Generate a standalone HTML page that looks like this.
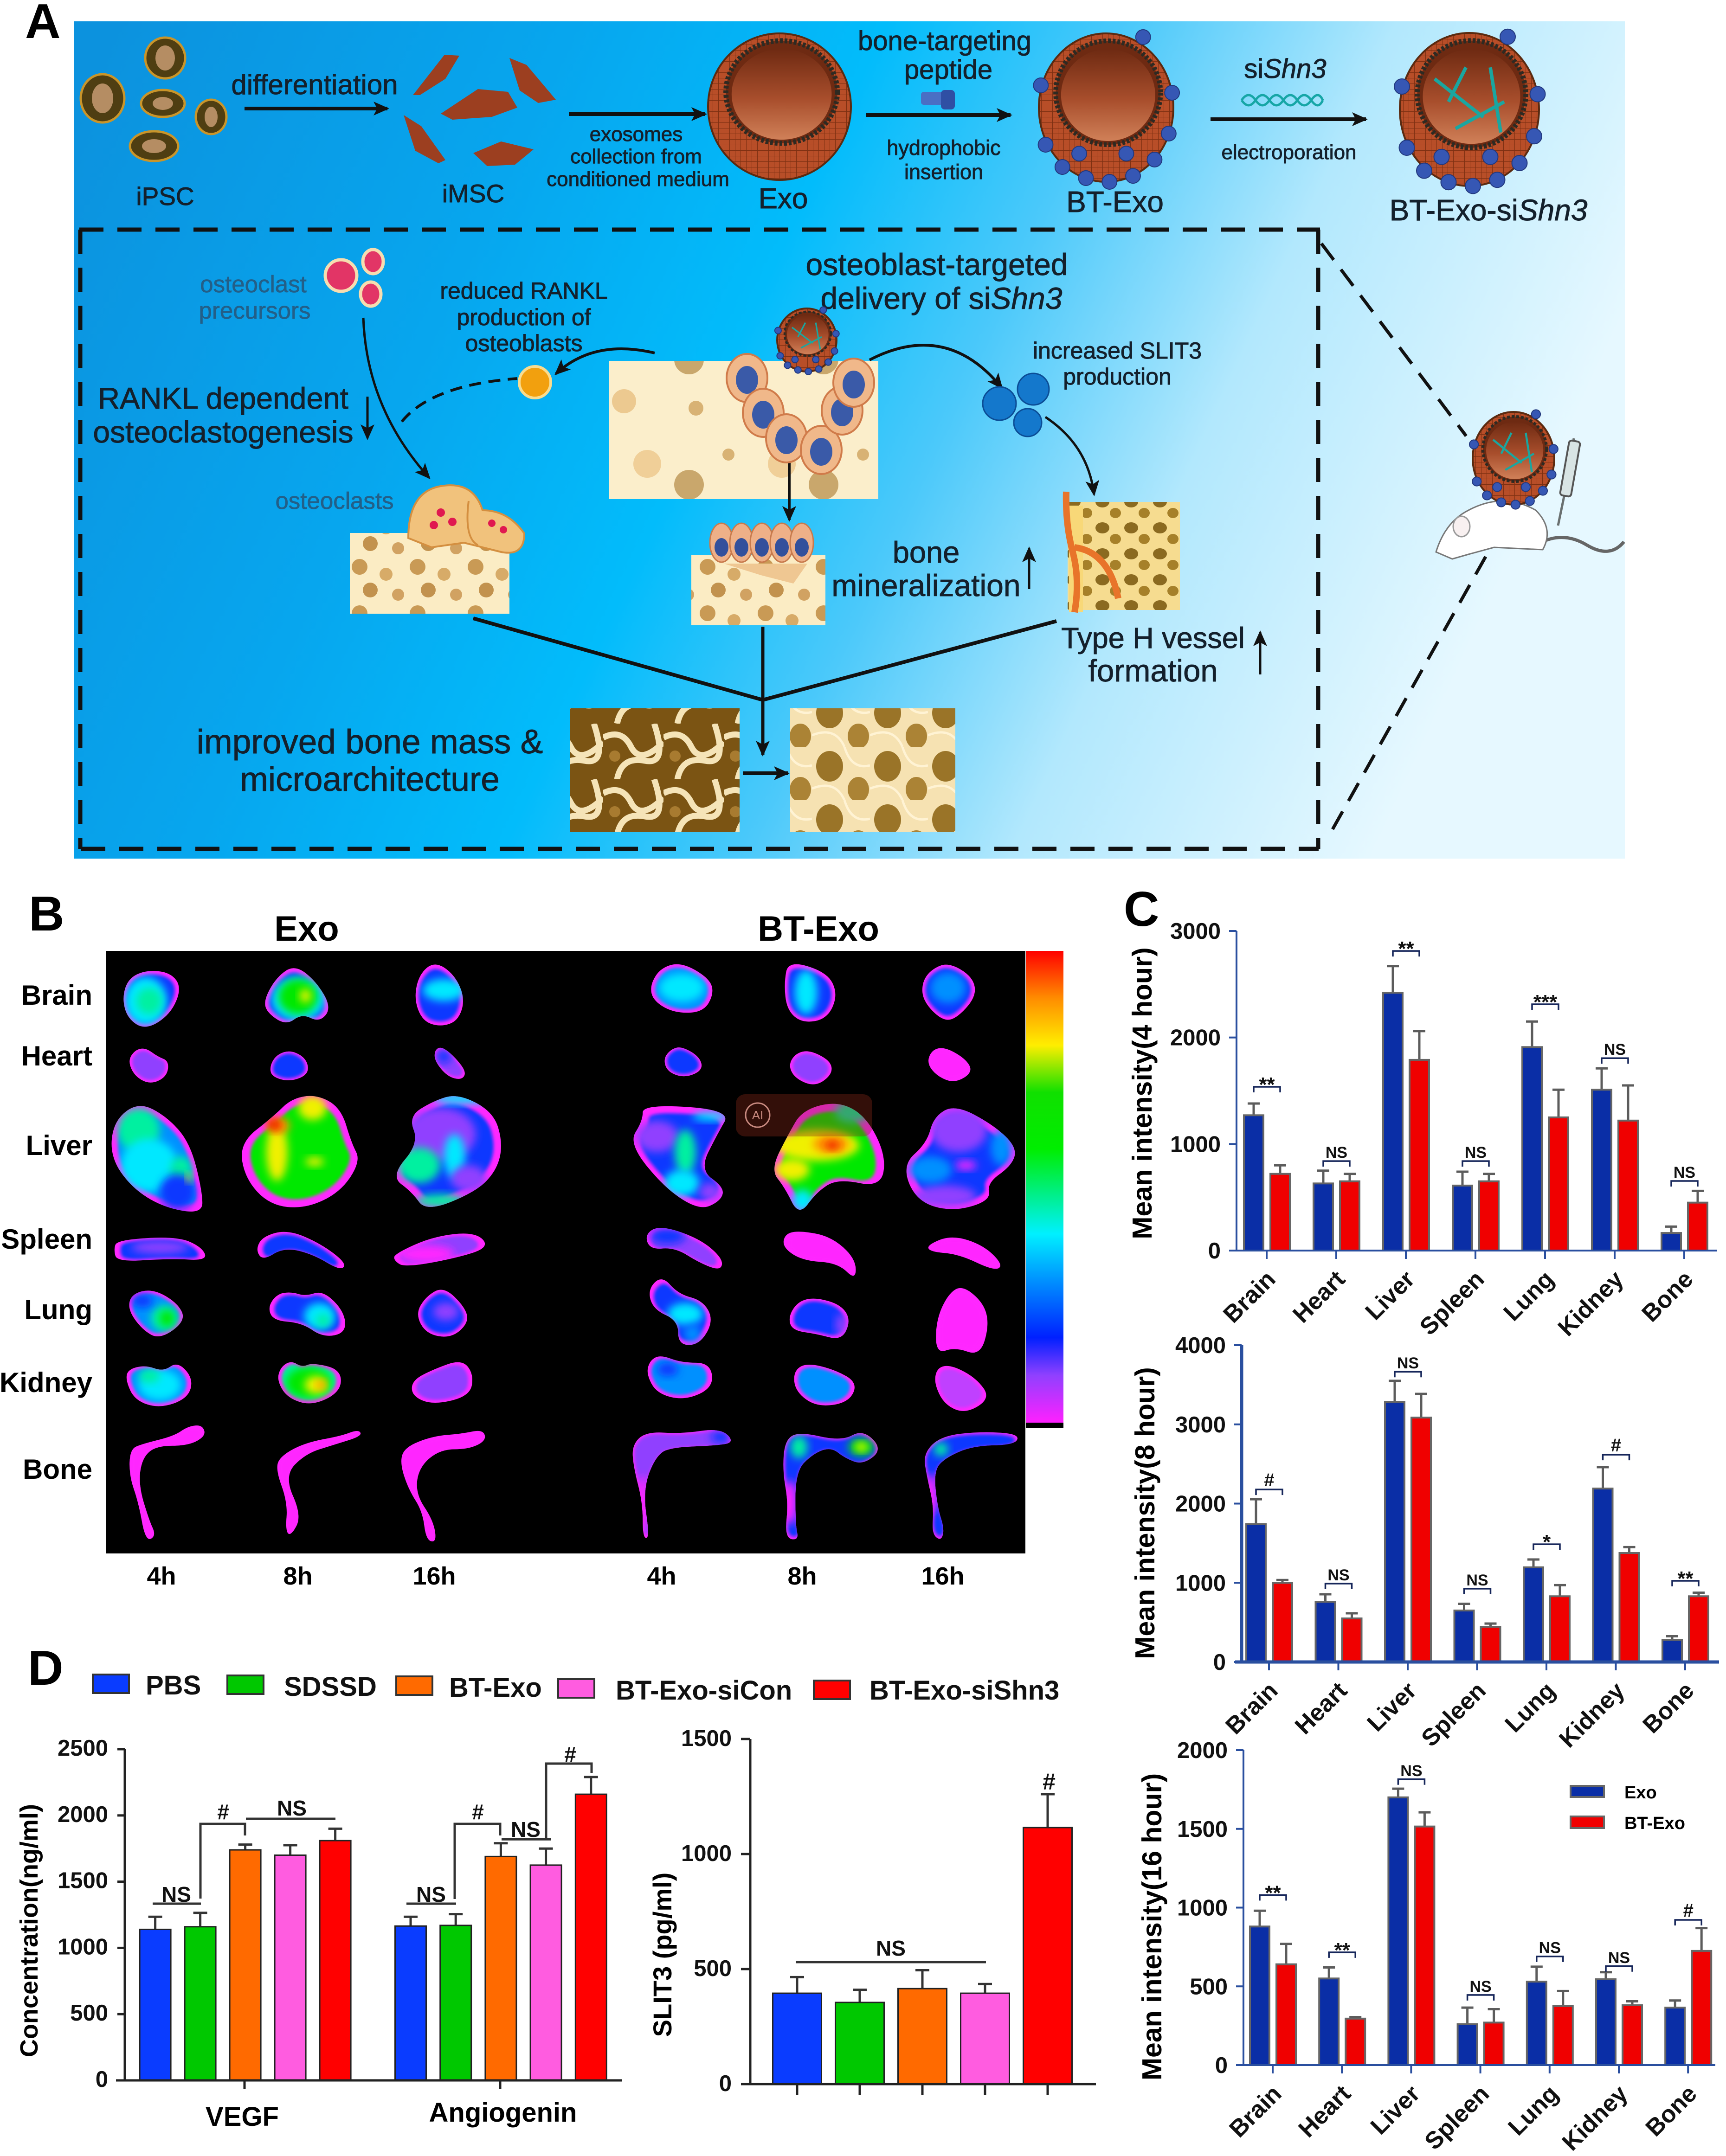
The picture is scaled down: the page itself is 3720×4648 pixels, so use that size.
<!DOCTYPE html>
<html lang="en"><head><meta charset="utf-8"><title>Multi-panel exosome figure</title>
<style>
html,body{margin:0;padding:0;background:#fff}
svg{display:block;font-family:"Liberation Sans",sans-serif}
.a{fill:#14202c;text-anchor:middle;stroke:#14202c;stroke-width:.9}
.t{fill:#235f88;text-anchor:middle;stroke:#235f88;stroke-width:.7}
.b{font-weight:700;fill:#000;text-anchor:middle}
.pl{font-weight:700;fill:#000;font-size:106px}
</style></head><body>
<svg id="figure" xmlns="http://www.w3.org/2000/svg" width="3720" height="4648" viewBox="0 0 3720 4648">
<defs>
<linearGradient id="bgGrad" x1="0" y1="0.1" x2="1" y2="0.35">
<stop offset="0" stop-color="#0c92de"/><stop offset=".28" stop-color="#07a6ee"/><stop offset=".47" stop-color="#02bcfb"/><stop offset=".62" stop-color="#4cc9fa"/><stop offset=".78" stop-color="#b2e8fd"/><stop offset="1" stop-color="#e6f8ff"/>
</linearGradient>
<linearGradient id="scaleGrad" x1="0" y1="0" x2="0" y2="1">
<stop offset="0" stop-color="#ff0000"/><stop offset=".1" stop-color="#ff8c00"/><stop offset=".2" stop-color="#ffee00"/><stop offset=".3" stop-color="#10e000"/><stop offset=".42" stop-color="#00ee00"/><stop offset=".6" stop-color="#00f0ff"/><stop offset=".7" stop-color="#0090ff"/><stop offset=".82" stop-color="#0020ff"/><stop offset=".9" stop-color="#9040ff"/><stop offset="1" stop-color="#ff20ff"/>
</linearGradient>
<linearGradient id="cupGrad" x1="0" y1="0" x2="0" y2="1"><stop offset="0" stop-color="#6e2a12"/><stop offset=".55" stop-color="#a84e2c"/><stop offset="1" stop-color="#d08058"/></linearGradient>
<marker id="arrow" markerUnits="userSpaceOnUse" markerWidth="34" markerHeight="30" refX="30" refY="15" orient="auto"><path d="M0 0L34 15L0 30L8 15Z" fill="#111"/></marker>
<pattern id="boneDense" width="125" height="100" patternUnits="userSpaceOnUse">
<rect width="125" height="100" fill="#fbecc4"/><circle cx="25" cy="22" r="17" fill="#c99a55"/><circle cx="82" cy="38" r="14" fill="#d7ab68"/><circle cx="48" cy="72" r="16" fill="#c2924e"/><circle cx="108" cy="82" r="13" fill="#d1a262"/>
</pattern>
<pattern id="boneSparse" width="290" height="270" patternUnits="userSpaceOnUse">
<rect width="290" height="270" fill="#fbeecb"/><circle cx="50" cy="70" r="16" fill="#d8b274"/><circle cx="185" cy="55" r="26" fill="#ecc990"/><circle cx="120" cy="170" r="13" fill="#d8b274"/><circle cx="235" cy="190" r="30" fill="#f0cf98"/><circle cx="35" cy="235" r="32" fill="#c9a76c"/>
</pattern>
<pattern id="boneDark" width="130" height="120" patternUnits="userSpaceOnUse">
<rect width="130" height="120" fill="#7b5413"/><path d="M0 30Q40 10 60 50T130 40M30 120Q40 70 90 80T110 0" fill="none" stroke="#f5e4b8" stroke-width="13"/><circle cx="25" cy="70" r="12" fill="#a87b30"/>
</pattern>
<pattern id="boneHoles" width="125" height="115" patternUnits="userSpaceOnUse">
<rect width="125" height="115" fill="#f6e2b2"/><ellipse cx="38" cy="42" rx="29" ry="33" fill="#9a7428"/><ellipse cx="100" cy="92" rx="23" ry="27" fill="#ab8335"/><path d="M0 90Q50 70 70 115M70 0Q85 50 125 40" stroke="#fff3d4" stroke-width="5" fill="none"/>
</pattern>
<pattern id="boneSpongy" width="62" height="56" patternUnits="userSpaceOnUse">
<rect width="62" height="56" fill="#f6dc90"/><ellipse cx="20" cy="18" rx="15" ry="12" fill="#8b6a20"/><ellipse cx="48" cy="42" rx="12" ry="11" fill="#a68029"/>
</pattern>
<pattern id="lipid" width="12" height="12" patternUnits="userSpaceOnUse"><rect width="12" height="12" fill="#b84e28"/><path d="M0 0H12M0 0V12" stroke="#7e3012" stroke-width="2"/></pattern>
<filter id="blur8" x="-40%" y="-40%" width="180%" height="180%"><feGaussianBlur stdDeviation="9"/></filter>
<filter id="blur4" x="-30%" y="-30%" width="160%" height="160%"><feGaussianBlur stdDeviation="4"/></filter>
</defs>
<rect width="3720" height="4648" fill="#fff"/>

<!-- PANEL A -->
<g id="panelA">
<rect x="159" y="46" width="3343" height="1805" fill="url(#bgGrad)"/>
<text class="pl" x="54" y="82">A</text>
<g fill="none" stroke="#111" stroke-width="9" stroke-dasharray="52 30">
<path d="M171 495H2845"/><path d="M175 1830H2842"/><path d="M173 495V1830" /><path d="M2841 495V1830"/>
</g>
<g fill="none" stroke="#111" stroke-width="7" stroke-dasharray="44 26">
<path d="M2848 525L3160 940"/><path d="M3202 1200L2868 1795"/>
</g>
<g stroke="#111" stroke-width="8" fill="none">
<path d="M527 234H835" marker-end="url(#arrow)"/><path d="M1226 246H1520" marker-end="url(#arrow)"/><path d="M1867 248H2178" marker-end="url(#arrow)"/><path d="M2609 257H2944" marker-end="url(#arrow)"/>
</g>
<g stroke="#c9952a" stroke-width="5">
<ellipse cx="356" cy="125" rx="43" ry="44" fill="#4f3e12"/><ellipse cx="356" cy="125" rx="21" ry="27" fill="#b58d63" stroke="none"/>
<ellipse cx="221" cy="212" rx="47" ry="52" fill="#4f3e12"/><ellipse cx="221" cy="212" rx="23" ry="32" fill="#b58d63" stroke="none"/>
<ellipse cx="351" cy="223" rx="47" ry="29" fill="#4f3e12"/><ellipse cx="351" cy="223" rx="22" ry="14" fill="#b58d63" stroke="none"/>
<ellipse cx="455" cy="252" rx="33" ry="37" fill="#4f3e12"/><ellipse cx="455" cy="252" rx="14" ry="22" fill="#b58d63" stroke="none"/>
<ellipse cx="332" cy="315" rx="52" ry="32" fill="#4f3e12"/><ellipse cx="332" cy="315" rx="26" ry="15" fill="#b58d63" stroke="none"/>
</g>
<g fill="#9c3f20">
<path d="M990 120L958 118L890 205L905 205L960 170Z"/><path d="M1098 125L1135 140L1198 215L1160 222L1120 195Z"/><path d="M950 245L1030 192L1095 198L1115 232L1060 252L975 258Z"/><path d="M870 248L908 272L960 345L945 352L895 325Z"/><path d="M1020 330L1080 305L1150 322L1110 355L1050 358Z"/>
</g>
<g><rect x="1985" y="198" width="62" height="28" rx="6" fill="#4a6fc4"/><rect x="2028" y="194" width="30" height="42" rx="8" fill="#2f4fa4"/></g>
<path d="M2676 216q15 -22 30 0t30 0t30 0t30 0t30 0t25 0M2676 216q15 22 30 0t30 0t30 0t30 0t30 0t25 0" stroke="#16a6a6" stroke-width="5" fill="none"/>
<text class="a" x="678" y="203" font-size="60">differentiation</text>
<text class="a" x="356" y="442" font-size="55">iPSC</text>
<text class="a" x="1020" y="436" font-size="55">iMSC</text>
<text class="a" x="1371" y="304" font-size="44">exosomes</text>
<text class="a" x="1371" y="352" font-size="44">collection from</text>
<text class="a" x="1375" y="401" font-size="44">conditioned medium</text>
<text class="a" x="1688" y="449" font-size="62">Exo</text>
<text class="a" x="2036" y="108" font-size="58">bone-targeting</text>
<text class="a" x="2044" y="170" font-size="58">peptide</text>
<text class="a" x="2034" y="334" font-size="45">hydrophobic</text>
<text class="a" x="2034" y="386" font-size="45">insertion</text>
<text class="a" x="2403" y="457" font-size="64">BT-Exo</text>
<text class="a" x="2770" y="168" font-size="58">si<tspan font-style="italic">Shn3</tspan></text>
<text class="a" x="2778" y="343" font-size="44">electroporation</text>
<text class="a" x="3208" y="475" font-size="64">BT-Exo-si<tspan font-style="italic">Shn3</tspan></text>
<rect x="1312" y="778" width="581" height="298" fill="url(#boneSparse)"/>
<rect x="754" y="1149" width="344" height="174" fill="url(#boneDense)"/>
<rect x="1490" y="1197" width="289" height="151" fill="url(#boneDense)"/>
<path d="M1560 1215H1740L1710 1258L1640 1240Z" fill="#efc792"/>
<rect x="2301" y="1082" width="242" height="233" fill="url(#boneSpongy)"/>
<rect x="2304" y="1090" width="30" height="230" fill="#f8d878"/>
<path d="M2298 1060Q2296 1130 2312 1190T2316 1320M2316 1180Q2390 1190 2410 1290" stroke="#e8742a" stroke-width="14" fill="none"/>
<rect x="1229" y="1527" width="365" height="267" fill="url(#boneDark)"/>
<rect x="1703" y="1527" width="356" height="267" fill="url(#boneHoles)"/>
<g fill="none" stroke="#111">
<path d="M783 685Q790 880 925 1030" stroke-width="5" marker-end="url(#arrow)"/>
<path d="M866 909Q930 830 1115 816" stroke-width="6" stroke-dasharray="26 16"/>
<path d="M1411 761Q1280 730 1198 806" stroke-width="6" marker-end="url(#arrow)"/>
<path d="M1874 776Q2040 690 2159 836" stroke-width="6" marker-end="url(#arrow)"/>
<path d="M2253 899Q2345 960 2358 1066" stroke-width="5" marker-end="url(#arrow)"/>
<path d="M1701 970V1121" stroke-width="6" marker-end="url(#arrow)"/>
<path d="M792 855V945" stroke-width="5" marker-end="url(#arrow)"/>
<path d="M2218 1270V1182" stroke-width="5" marker-end="url(#arrow)"/>
<path d="M2716 1454V1363" stroke-width="5" marker-end="url(#arrow)"/>
<path d="M1020 1333L1644 1509L2277 1339" stroke-width="8"/>
<path d="M1644 1351V1627" stroke-width="7" marker-end="url(#arrow)"/>
<path d="M1601 1667H1698" stroke-width="8" marker-end="url(#arrow)"/>
</g>
<g stroke="#f6ddb0" stroke-width="7" fill="#e23566"><circle cx="735" cy="594" r="34"/><ellipse cx="804" cy="564" rx="22" ry="26"/><ellipse cx="799" cy="634" rx="22" ry="26"/></g>
<circle cx="1153" cy="824" r="34" fill="#f2a00e" stroke="#f8dc90" stroke-width="6"/>
<g fill="#1478cc" stroke="#0b4d96" stroke-width="3"><circle cx="2154" cy="870" r="36"/><circle cx="2227" cy="839" r="34"/><circle cx="2215" cy="911" r="30"/></g>
<g><path d="M880 1160Q880 1060 950 1048T1040 1100Q1095 1100 1130 1150Q1130 1200 1080 1190L1000 1170L930 1180Z" fill="#f1c27c" stroke="#d48f40" stroke-width="4"/><path d="M1010 1080Q1000 1160 1030 1175" stroke="#d48f40" stroke-width="4" fill="none"/><circle cx="950" cy="1105" r="9" fill="#e01850"/><circle cx="975" cy="1125" r="9" fill="#e01850"/><circle cx="935" cy="1132" r="9" fill="#e01850"/><circle cx="1060" cy="1128" r="8" fill="#e01850"/><circle cx="1085" cy="1142" r="8" fill="#e01850"/></g>
<text class="t" x="546" y="630" font-size="51">osteoclast</text>
<text class="t" x="549" y="687" font-size="51">precursors</text>
<text class="a" x="1129" y="644" font-size="50">reduced RANKL</text>
<text class="a" x="1129" y="701" font-size="50">production of</text>
<text class="a" x="1129" y="757" font-size="50">osteoblasts</text>
<text class="a" x="2019" y="593" font-size="66">osteoblast-targeted</text>
<text class="a" x="2029" y="666" font-size="66">delivery of si<tspan font-style="italic">Shn3</tspan></text>
<text class="a" x="481" y="881" font-size="65">RANKL dependent</text>
<text class="a" x="481" y="954" font-size="66">osteoclastogenesis</text>
<text class="a" x="2408" y="773" font-size="50">increased SLIT3</text>
<text class="a" x="2408" y="829" font-size="50">production</text>
<text class="t" x="721" y="1097" font-size="51">osteoclasts</text>
<text class="a" x="1996" y="1213" font-size="65">bone</text>
<text class="a" x="1996" y="1285" font-size="66">mineralization</text>
<text class="a" x="2485" y="1397" font-size="63">Type H vessel</text>
<text class="a" x="2485" y="1469" font-size="67">formation</text>
<text class="a" x="797" y="1624" font-size="73">improved bone mass &amp;</text>
<text class="a" x="797" y="1705" font-size="73">microarchitecture</text>
<g>
<path d="M3320 1170Q3370 1145 3420 1175T3500 1168" stroke="#666" stroke-width="7" fill="none"/>
<path d="M3095 1190Q3115 1125 3165 1100Q3240 1060 3310 1100Q3350 1140 3325 1185L3220 1180L3165 1195L3130 1205Z" fill="#fff" stroke="#777" stroke-width="3"/>
<ellipse cx="3150" cy="1135" rx="18" ry="22" fill="#f8f0f0" stroke="#999" stroke-width="3"/>
</g>
<g><path d="M3392 945L3370 1075L3358 1133" stroke="#6a7070" stroke-width="5" fill="none"/><rect x="3372" y="950" width="24" height="120" rx="6" transform="rotate(10 3384 1010)" fill="#d8e4e4" stroke="#555" stroke-width="4"/></g>
</g>

<!-- PANEL B static frame -->
<g id="panelB">
<text class="pl" x="62" y="2006">B</text>
<rect x="228" y="2050" width="1982" height="1299" fill="#000"/>
<rect x="2211" y="2050" width="81" height="1028" fill="#000"/>
<rect x="2211" y="2050" width="81" height="1017" fill="url(#scaleGrad)"/>
<text class="b" x="661" y="2028" font-size="76">Exo</text>
<text class="b" x="1764" y="2028" font-size="76">BT-Exo</text>
</g>

<!-- PANEL C / D static labels -->
<g>
<text class="pl" x="2422" y="1996">C</text>
<text class="b" transform="translate(2482,2357) rotate(-90)" font-size="59">Mean intensity(4 hour)</text>
<text class="b" transform="translate(2488,3262) rotate(-90)" font-size="59">Mean intensity(8 hour)</text>
<text class="b" transform="translate(2503,4154) rotate(-90)" font-size="59">Mean intensity(16 hour)</text>
<rect x="3385" y="3850" width="72" height="24" fill="#0a2ea6" stroke="#666" stroke-width="4"/>
<rect x="3385" y="3916" width="72" height="25" fill="#f00000" stroke="#666" stroke-width="4"/>
<text x="3501" y="3877" font-size="38" font-weight="700">Exo</text>
<text x="3501" y="3943" font-size="38" font-weight="700">BT-Exo</text>
</g>
<g>
<text class="pl" x="60" y="3632">D</text>
<text class="b" transform="translate(81,4162) rotate(-90)" font-size="54">Concentration(ng/ml)</text>
<text class="b" transform="translate(1447,4214) rotate(-90)" font-size="56">SLIT3 (pg/ml)</text>
<text class="b" x="522" y="4583" font-size="58">VEGF</text>
<text class="b" x="1084" y="4574" font-size="58">Angiogenin</text>
</g>
</svg>
<script>
// ---- Panel C data ----
const organCategories = ['Brain', 'Heart', 'Liver', 'Spleen', 'Lung', 'Kidney', 'Bone'];
const exo4h = [1270, 630, 2420, 610, 1910, 1510, 165];
const exo4hErrTop = [1380, 750, 2670, 740, 2150, 1710, 225];
const bt4h = [720, 650, 1790, 650, 1250, 1220, 450];
const bt4hErrTop = [800, 720, 2060, 720, 1510, 1550, 560];
const sigLabels4h = ['**', 'NS', '**', 'NS', '***', 'NS', 'NS'];
const sigLevels4h = [1537, 840, 2812, 840, 2312, 1806, 653];
const ticks4h = [0, 1000, 2000, 3000];

const exo8h = [1740, 760, 3285, 650, 1195, 2190, 280];
const exo8hErrTop = [2055, 855, 3550, 735, 1294, 2460, 325];
const bt8h = [1000, 550, 3086, 445, 830, 1376, 830];
const bt8hErrTop = [1035, 615, 3385, 485, 970, 1450, 875];
const sigLabels8h = ['#', 'NS', 'NS', 'NS', '*', '#', '**'];
const sigLevels8h = [2178, 990, 3665, 925, 1487, 2617, 1025];
const ticks8h = [0, 1000, 2000, 3000, 4000];

const exo16h = [880, 550, 1700, 260, 530, 545, 365];
const exo16hErrTop = [980, 620, 1755, 365, 625, 590, 410];
const bt16h = [640, 295, 1515, 270, 375, 380, 725];
const bt16hErrTop = [770, 305, 1605, 355, 470, 405, 870];
const sigLabels16h = ['**', '**', 'NS', 'NS', 'NS', 'NS', '#'];
const sigLevels16h = [1080, 716, 1815, 445, 690, 628, 922];
const ticks16h = [0, 500, 1000, 1500, 2000];

// ---- Panel D data ----
const groupNames = ['PBS', 'SDSSD', 'BT-Exo', 'BT-Exo-siCon', 'BT-Exo-siShn3'];
const groupColors = ['#0a3cff', '#00c800', '#ff6a00', '#ff5ce0', '#ff0000'];
const vegfValues = [1140, 1160, 1740, 1700, 1810];
const vegfErrTop = [1235, 1265, 1780, 1775, 1900];
const angiogeninValues = [1165, 1170, 1690, 1625, 2160];
const angiogeninErrTop = [1235, 1255, 1790, 1750, 2290];
const concTicks = [0, 500, 1000, 1500, 2000, 2500];
const slit3Values = [395, 355, 415, 395, 1115];
const slit3ErrTop = [465, 410, 495, 435, 1260];
const slit3Ticks = [0, 500, 1000, 1500];

// ---- Panel B labels ----
const tissueRows = ['Brain', 'Heart', 'Liver', 'Spleen', 'Lung', 'Kidney', 'Bone'];
const timeLabels = ['4h', '8h', '16h', '4h', '8h', '16h'];

const NS = 'http://www.w3.org/2000/svg';
const svg = document.getElementById('figure');
function mk(tag, attrs, parent, txt) {
  const e = document.createElementNS(NS, tag);
  for (const k in attrs) e.setAttribute(k, attrs[k]);
  if (txt !== undefined) e.textContent = txt;
  (parent || svg).appendChild(e);
  return e;
}

// ---- Chart C ----
function drawOrganChart(key, geo, exo, exoTop, bt, btTop, sigL, sigV, ticks) {
  const g = mk('g', {});
  
  
  const vMax = ticks[ticks.length - 1];
  const y = v => geo.y0 - v / vMax * (geo.y0 - geo.yTop);
  const x = i => geo.x0 + i * geo.step;
  const W = 42;
  organCategories.forEach((cat, i) => {
    [[exo, exoTop, '#0a2ea6', -28, 'exo'], [bt, btTop, '#f00000', 29, 'bt-exo']].forEach(s => {
      const cx = x(i) + s[3];
      const err = mk('path', { d: 'M' + cx + ' ' + y(s[0][i]) + 'V' + y(s[1][i]) + 'M' + (cx - 13) + ' ' + y(s[1][i]) + 'H' + (cx + 13), stroke: '#5c5c5c', 'stroke-width': 5, fill: 'none' }, g);
      
      
      const bar = mk('rect', { x: cx - W / 2, y: y(s[0][i]), width: W, height: geo.y0 - y(s[0][i]), fill: s[2], stroke: '#666', 'stroke-width': 4 }, g);
      
      
    });
    const bx1 = x(i) - 28, bx2 = x(i) + 29, by = y(sigV[i]);
    const br = mk('path', { d: 'M' + bx1 + ' ' + (by + 12) + 'V' + by + 'H' + bx2 + 'V' + (by + 12), stroke: '#16265a', 'stroke-width': 3.5, fill: 'none' }, g);
    
    
    const isStar = sigL[i].indexOf('*') >= 0;
    const isHash = sigL[i] === '#';
    const st = mk('text', { x: (bx1 + bx2) / 2, y: by + (isStar ? 10 : -7), 'font-size': isStar ? 44 : (isHash ? 40 : 34), 'font-weight': 700, 'text-anchor': 'middle', fill: '#111' }, g, sigL[i]);
    
    
    const tk = mk('line', { x1: x(i), x2: x(i), y1: geo.y0, y2: geo.y0 + 18, stroke: '#2a4f9f', 'stroke-width': 4 }, g);
    
    
    const lx = x(i) + 22, ly = geo.y0 + 65;
    const lab = mk('text', { x: lx, y: ly, transform: 'rotate(-45 ' + lx + ' ' + ly + ')', 'text-anchor': 'end', 'font-size': 52, 'font-weight': 700, fill: '#111' }, g, cat);
    
    
  });
  const ax = mk('path', { d: 'M' + geo.axisX + ' ' + geo.yTop + 'V' + geo.y0 + 'M' + (geo.axisX - 14) + ' ' + geo.y0 + 'H' + geo.xEnd, stroke: '#2a4f9f', 'stroke-width': geo.axisW, fill: 'none' }, g);
  
  
  ticks.forEach(t => {
    const tl = mk('line', { x1: geo.axisX - 16, x2: geo.axisX, y1: y(t), y2: y(t), stroke: '#2a4f9f', 'stroke-width': 4 }, g);
    
    
    const tt = mk('text', { x: geo.axisX - 34, y: y(t) + 17, 'text-anchor': 'end', 'font-size': 49, 'font-weight': 700, fill: '#111' }, g, String(t));
    
    
  });
}
drawOrganChart('4h', { x0: 2730, step: 150, y0: 2696, yTop: 2007, axisX: 2665, xEnd: 3701, axisW: 4 }, exo4h, exo4hErrTop, bt4h, bt4hErrTop, sigLabels4h, sigLevels4h, ticks4h);
drawOrganChart('8h', { x0: 2735, step: 149.5, y0: 3583, yTop: 2900, axisX: 2676, xEnd: 3705, axisW: 7 }, exo8h, exo8hErrTop, bt8h, bt8hErrTop, sigLabels8h, sigLevels8h, ticks8h);
drawOrganChart('16h', { x0: 2743, step: 149.2, y0: 4452, yTop: 3773, axisX: 2680, xEnd: 3697, axisW: 4 }, exo16h, exo16hErrTop, bt16h, bt16hErrTop, sigLabels16h, sigLevels16h, ticks16h);

// ---- Chart D ----
function bars(g, vals, tops, xOf, y, y0, W, prefix) {
  vals.forEach((v, i) => {
    const cx = xOf(i);
    const err = mk('path', { d: 'M' + cx + ' ' + y(v) + 'V' + y(tops[i]) + 'M' + (cx - 15) + ' ' + y(tops[i]) + 'H' + (cx + 15), stroke: '#333', 'stroke-width': 5, fill: 'none' }, g);
    
    
    const bar = mk('rect', { x: cx - W / 2, y: y(v), width: W, height: y0 - y(v), fill: groupColors[i], stroke: '#222', 'stroke-width': 3 }, g);
    
    
  });
}
const concG = mk('g', {});


const concY0 = 4485, concTop = 3771;
const concY = v => concY0 - v / 2500 * (concY0 - concTop);
bars(concG, vegfValues, vegfErrTop, i => 334.6 + i * 97, concY, concY0, 67, 'vegf');
bars(concG, angiogeninValues, angiogeninErrTop, i => 885 + i * 97.2, concY, concY0, 67, 'angiogenin');
const concAxes = mk('path', { d: 'M269 ' + concTop + 'V' + concY0 + 'M250 ' + concY0 + 'H1340M527 ' + concY0 + 'V4503M1078 ' + concY0 + 'V4503', stroke: '#222', 'stroke-width': 5, fill: 'none' }, concG);


concTicks.forEach(t => {
  const tl = mk('line', { x1: 253, x2: 269, y1: concY(t), y2: concY(t), stroke: '#222', 'stroke-width': 5 }, concG);
  
  
  const tt = mk('text', { x: 233, y: concY(t) + 14, 'text-anchor': 'end', 'font-size': 49, 'font-weight': 700, fill: '#111' }, concG, String(t));
  
  
});
const sigPaths = [
  ['M329 ' + concY(1334) + 'H433', 'NS', 380, 4100],
  ['M432 4093V3932H528V3957', '#', 481, 3922],
  ['M530 ' + concY(1975) + 'H723', 'NS', 629, 3914],
  ['M876 ' + concY(1334) + 'H983', 'NS', 929, 4100],
  ['M980 4094V3932H1078V3957', '#', 1030, 3922],
  ['M1081 ' + concY(1820) + 'H1187', 'NS', 1133, 3960],
  ['M1177 3963V3802H1275V3822', '#', 1229, 3798]
];
sigPaths.forEach(s => {
  const p = mk('path', { d: s[0], stroke: '#333', 'stroke-width': 5, fill: 'none' }, concG);
  
  
  const t = mk('text', { x: s[2], y: s[3], 'text-anchor': 'middle', 'font-size': 46, 'font-weight': 700, fill: '#111' }, concG, s[1]);
  
  
});

const slitG = mk('g', {});


const slitY0 = 4493, slitTop = 3749;
const slitY = v => slitY0 - v / 1500 * (slitY0 - slitTop);
const slitX = i => 1718 + i * 135;
bars(slitG, slit3Values, slit3ErrTop, slitX, slitY, slitY0, 105, 'slit3');
const slitAxes = mk('path', { d: 'M1617 ' + slitTop + 'V' + slitY0 + 'M1597 ' + slitY0 + 'H2362', stroke: '#222', 'stroke-width': 5, fill: 'none' }, slitG);


slit3Values.forEach((v, i) => {
  const tl = mk('line', { x1: slitX(i), x2: slitX(i), y1: slitY0, y2: 4516, stroke: '#222', 'stroke-width': 5 }, slitG);
  
  
});
slit3Ticks.forEach(t => {
  const tl = mk('line', { x1: 1597, x2: 1617, y1: slitY(t), y2: slitY(t), stroke: '#222', 'stroke-width': 5 }, slitG);
  
  
  const tt = mk('text', { x: 1577, y: slitY(t) + 15, 'text-anchor': 'end', 'font-size': 49, 'font-weight': 700, fill: '#111' }, slitG, String(t));
  
  
});
const slitNsLine = mk('line', { x1: 1715, x2: 2125, y1: 4230, y2: 4230, stroke: '#333', 'stroke-width': 5 }, slitG);


const slitNs = mk('text', { x: 1920, y: 4216, 'text-anchor': 'middle', 'font-size': 46, 'font-weight': 700, fill: '#111' }, slitG, 'NS');


const slitHash = mk('text', { x: 2261, y: 3858, 'text-anchor': 'middle', 'font-size': 50, 'font-weight': 700, fill: '#111' }, slitG, '#');



const legendLayout = [[200, 3610, 314, 3653], [490, 3612, 612, 3656], [854, 3614, 968, 3658], [1203, 3620, 1327, 3664], [1754, 3623, 1874, 3664]];
groupNames.forEach((n, i) => {
  const L = legendLayout[i];
  const sw = mk('rect', { x: L[0], y: L[1], width: 78, height: 40, fill: groupColors[i], stroke: '#333', 'stroke-width': 4 });
  
  
  const tx = mk('text', { x: L[2], y: L[3], 'font-size': 58, 'font-weight': 700, fill: '#111' }, svg, n);
  
  
});

// ---- Panel B imaging ----
const rowY = [2151, 2282, 2475, 2677, 2829, 2986, 3173];
tissueRows.forEach((n, i) => {
  const t = mk('text', { x: 199, y: rowY[i] + 15, 'text-anchor': 'end', 'font-size': 60, 'font-weight': 700, fill: '#000' }, svg, n);
  
  
});
const timeX = [348, 642, 936, 1426, 1729, 2032];
timeLabels.forEach((n, i) => {
  const t = mk('text', { x: timeX[i], y: 3416, 'text-anchor': 'middle', 'font-size': 54, 'font-weight': 700, fill: '#000' }, svg, n);
  
  
});
const M = '#ff28ff', V = '#9040ff', B = '#0838ff', L = '#0090ff', C = '#00e8ff', T = '#00f0a0', G = '#00e800', Y = '#f0f000', O = '#ff9000', R = '#f02000';
const zx = x => x * 1.5306, zy = y => 1900 + y * 0.9566;
const organs = [
 ['brain-exo-4h', [[205,200],[240,205],[256,240],[240,300],[205,335],[180,310],[172,265],[180,220]], B, [[C,205,270,30,55],[T,210,270,18,30]]],
 ['brain-exo-8h', [[415,188],[445,225],[467,285],[450,318],[425,298],[403,325],[375,295],[372,265],[390,215]], B, [[C,420,265,38,50],[G,420,260,28,40],[Y,430,258,8,15]]],
 ['brain-exo-16h', [[612,180],[640,210],[655,265],[645,315],[620,328],[595,315],[583,265],[590,210]], B, [[C,625,245,30,25]]],
 ['brain-bt-4h', [[960,182],[1000,220],[1005,255],[990,295],[950,297],[920,270],[915,235],[930,195]], L, [[C,960,240,32,32]]],
 ['brain-bt-8h', [[1110,178],[1165,205],[1180,255],[1165,310],[1130,320],[1108,290],[1104,230]], B, [[C,1135,250,16,50]]],
 ['brain-bt-16h', [[1335,182],[1370,215],[1375,260],[1345,312],[1325,312],[1300,270],[1298,230],[1310,200]], B, [[L,1335,240,25,35]]],
 ['heart-exo-4h', [[205,375],[222,395],[238,405],[235,440],[212,458],[190,440],[180,405],[190,380]], V, []],
 ['heart-exo-8h', [[410,380],[432,400],[435,435],[408,452],[382,440],[380,415],[390,390]], B, []],
 ['heart-exo-16h', [[622,372],[640,395],[657,430],[650,448],[630,440],[612,405],[612,380]], V, [[B,625,395,10,15]]],
 ['heart-bt-4h', [[960,372],[985,395],[990,425],[965,443],[940,430],[934,400],[945,378]], B, []],
 ['heart-bt-8h', [[1140,380],[1170,405],[1172,435],[1148,463],[1120,445],[1110,415],[1120,388]], V, []],
 ['heart-bt-16h', [[1330,373],[1360,400],[1370,430],[1345,455],[1320,440],[1305,410],[1312,380]], M, []],
 ['liver-exo-4h', [[195,497],[235,530],[268,590],[285,700],[285,750],[230,735],[185,690],[155,620],[160,540]], L, [[T,195,560,30,50],[C,210,640,40,60],[T,255,650,15,30],[B,250,700,25,40],[Y,266,668,4,10]]],
 ['liver-exo-8h', [[445,480],[480,510],[495,590],[508,630],[480,700],[430,738],[380,730],[345,670],[337,590],[385,530],[410,490]], G, [[Y,390,610,15,65],[O,392,550,16,18],[R,386,548,10,14],[Y,440,510,20,28],[Y,443,632,13,10]]],
 ['liver-exo-16h', [[645,478],[695,520],[708,590],[700,650],[670,700],[600,745],[580,700],[550,665],[590,590],[575,530],[610,495]], B, [[V,620,570,50,60],[T,590,640,30,40],[C,640,620,15,50],[C,650,490,40,12],[T,620,720,35,15],[V,660,670,25,30]]],
 ['liver-bt-4h', [[905,502],[1030,515],[1010,570],[985,650],[1020,690],[1015,720],[985,742],[935,690],[885,590],[905,540]], B, [[V,925,575,30,35],[T,965,610,15,50],[C,960,680,25,30],[C,1000,530,25,10],[V,1000,700,15,20]]],
 ['liver-bt-8h', [[1180,495],[1220,530],[1248,620],[1240,690],[1180,670],[1150,700],[1125,755],[1105,690],[1085,650],[1110,570],[1130,515]], G, [[Y,1150,595,60,35],[O,1170,592,25,20],[R,1172,595,10,10],[Y,1115,650,25,25],[T,1200,520,25,25],[C,1130,720,15,25]]],
 ['liver-bt-16h', [[1345,503],[1400,550],[1432,600],[1425,640],[1390,680],[1395,720],[1340,745],[1290,720],[1270,640],[1305,590],[1315,530]], B, [[V,1350,560,40,50],[V,1330,710,45,25],[L,1410,600,15,40],[M,1360,640,15,10],[L,1310,650,30,30]]],
 ['spleen-exo-4h', [[165,808],[250,800],[285,825],[292,855],[240,850],[165,858],[160,830]], B, [[V,225,825,40,14]]],
 ['spleen-exo-8h', [[370,800],[405,785],[450,815],[488,860],[480,878],[440,840],[400,825],[370,855],[360,830]], B, []],
 ['spleen-exo-16h', [[555,840],[610,800],[670,790],[690,825],[640,850],[570,870],[555,855]], V, [[M,600,840,40,20]]],
 ['spleen-bt-4h', [[930,775],[985,805],[1018,850],[1015,878],[985,860],[950,825],[915,830],[908,795]], V, [[B,940,800,25,18]]],
 ['spleen-bt-8h', [[1125,787],[1170,800],[1205,850],[1205,900],[1180,860],[1130,855],[1102,825],[1105,795]], M, []],
 ['spleen-bt-16h', [[1340,797],[1385,820],[1413,865],[1400,878],[1350,840],[1310,835],[1305,820]], M, []],
 ['lung-exo-4h', [[215,918],[250,950],[262,990],[225,1033],[200,1010],[180,965],[185,930]], L, [[T,232,985,20,30],[G,235,985,10,18],[B,200,945,15,15]]],
 ['lung-exo-8h', [[410,925],[430,935],[455,922],[485,970],[487,1018],[455,1028],[425,995],[385,990],[377,960],[390,930]], B, [[C,450,980,22,30],[T,455,990,10,15]]],
 ['lung-exo-16h', [[625,913],[655,960],[660,995],[635,1030],[600,1020],[585,975],[600,935]], B, [[V,628,970,18,20]]],
 ['lung-bt-4h', [[932,888],[955,930],[990,945],[1005,990],[985,1045],[955,1045],[955,990],[920,965],[912,920]], B, [[C,965,975,25,25],[L,975,1020,12,20]]],
 ['lung-bt-8h', [[1150,938],[1185,955],[1198,990],[1185,1035],[1150,1020],[1115,1012],[1110,980],[1125,945]], B, [[V,1185,1000,8,25]]],
 ['lung-bt-16h', [[1355,910],[1385,950],[1393,1000],[1380,1070],[1345,1050],[1318,1065],[1318,990],[1335,930]], M, []],
 ['kidney-exo-4h', [[205,1090],[230,1105],[250,1082],[272,1120],[265,1165],[225,1188],[190,1170],[177,1125],[180,1100]], L, [[C,225,1135,30,35],[T,210,1115,15,15]]],
 ['kidney-exo-8h', [[410,1080],[425,1095],[440,1085],[480,1100],[480,1150],[440,1182],[405,1165],[390,1125],[395,1095]], T, [[G,435,1130,32,35],[Y,445,1135,16,20],[O,452,1135,6,10]]],
 ['kidney-exo-16h', [[650,1077],[667,1110],[662,1160],[610,1180],[580,1160],[580,1125],[610,1100]], V, []],
 ['kidney-bt-4h', [[930,1067],[960,1085],[1000,1085],[1005,1140],[965,1170],[925,1155],[910,1110],[915,1080]], L, [[B,940,1100,15,15]]],
 ['kidney-bt-8h', [[1135,1085],[1175,1100],[1208,1130],[1195,1175],[1150,1185],[1120,1150],[1117,1105]], L, []],
 ['kidney-bt-16h', [[1340,1090],[1375,1120],[1395,1165],[1360,1200],[1330,1180],[1315,1130],[1320,1095]], '#c040ff', []],
 ['bone-exo-4h', [[285,1225],[290,1250],[265,1272],[220,1272],[200,1300],[195,1360],[210,1440],[220,1475],[205,1488],[195,1400],[182,1340],[183,1280],[200,1268],[245,1250],[265,1228]], M, []],
 ['bone-exo-8h', [[505,1235],[510,1250],[470,1270],[430,1290],[400,1340],[425,1430],[410,1475],[402,1465],[405,1400],[388,1325],[395,1295],[430,1265],[480,1250]], M, []],
 ['bone-exo-16h', [[680,1235],[685,1260],[660,1280],[620,1280],[590,1320],[585,1380],[610,1440],[615,1490],[600,1485],[595,1420],[575,1370],[563,1310],[570,1275],[610,1250],[650,1245]], M, []],
 ['bone-bt-4h', [[1015,1232],[1035,1265],[1005,1272],[950,1275],[925,1290],[905,1370],[915,1480],[905,1480],[905,1400],[892,1320],[890,1270],[910,1240],[960,1245]], V, [[B,1015,1252,14,14],[M,905,1400,8,60]]],
 ['bone-bt-8h', [[1215,1235],[1243,1280],[1215,1315],[1190,1300],[1170,1275],[1145,1290],[1120,1330],[1120,1450],[1125,1485],[1105,1480],[1110,1400],[1102,1330],[1105,1260],[1125,1240],[1185,1262]], B, [[G,1213,1275,18,20],[Y,1213,1275,8,10],[T,1125,1275,12,25],[M,1112,1400,10,50]]],
 ['bone-bt-16h', [[1435,1245],[1430,1270],[1370,1272],[1330,1300],[1315,1330],[1320,1410],[1330,1460],[1325,1487],[1312,1470],[1315,1410],[1305,1340],[1300,1290],[1325,1250],[1380,1240]], B, [[T,1325,1280,10,15],[M,1312,1380,8,45]]]
];
function smooth(pts) {
  const n = pts.length;
  const mid = (a, b) => [(a[0] + b[0]) / 2, (a[1] + b[1]) / 2];
  let s = mid(pts[n - 1], pts[0]);
  let d = 'M' + s[0].toFixed(1) + ' ' + s[1].toFixed(1);
  for (let i = 0; i < n; i++) {
    const m = mid(pts[i], pts[(i + 1) % n]);
    d += 'Q' + pts[i][0].toFixed(1) + ' ' + pts[i][1].toFixed(1) + ' ' + m[0].toFixed(1) + ' ' + m[1].toFixed(1);
  }
  return d + 'Z';
}
const defs = svg.querySelector('defs');
organs.forEach((o, idx) => {
  const pts = o[1].map(p => [zx(p[0]), zy(p[1])]);
  const d = smooth(pts);
  const g = mk('g', {});
  
  
  const cp = mk('clipPath', { id: 'organClip' + idx }, defs);
  mk('path', { d: d }, cp);
  mk('path', { d: d, fill: M }, g);
  const inner = mk('g', { 'clip-path': 'url(#organClip' + idx + ')' }, g);
  const cx = pts.reduce((a, p) => a + p[0], 0) / pts.length;
  const cy = pts.reduce((a, p) => a + p[1], 0) / pts.length;
  const isBone = o[0].indexOf('bone') === 0;
  const k = isBone ? 0.96 : 0.86;
  mk('path', { d: d, fill: o[2], filter: 'url(#blur4)', transform: 'translate(' + cx + ' ' + cy + ') scale(' + k + ') translate(' + (-cx) + ' ' + (-cy) + ')' }, inner);
  o[3].forEach(b => {
    mk('ellipse', { cx: zx(b[1]), cy: zy(b[2]), rx: b[3] * 1.53, ry: b[4] * 0.957, fill: b[0], filter: 'url(#blur8)' }, inner);
  });
});
const aiBadge = mk('g', {});


mk('rect', { x: 1586, y: 2359, width: 294, height: 91, rx: 20, fill: '#8c2a18', opacity: 0.36 }, aiBadge);
mk('circle', { cx: 1633, cy: 2404, r: 26, fill: 'none', stroke: '#c98a80', 'stroke-width': 3 }, aiBadge);
mk('text', { x: 1633, y: 2413, 'text-anchor': 'middle', 'font-size': 26, fill: '#c98a80' }, aiBadge, 'AI');

// ---- Panel A illustrations ----
function exosome(cx, cy, rx, ry, knobs, rna, name) {
  const g = mk('g', {});
  
  
  mk('ellipse', { cx: cx, cy: cy, rx: rx, ry: ry, fill: 'url(#lipid)', stroke: '#5a2a10', 'stroke-width': 4 }, g);
  mk('ellipse', { cx: cx + rx * 0.03, cy: cy - ry * 0.2, rx: rx * 0.78, ry: ry * 0.7, fill: '#6e2a12', stroke: '#2e2a22', 'stroke-width': rx * 0.07, 'stroke-dasharray': '6 4' }, g);
  mk('ellipse', { cx: cx + rx * 0.03, cy: cy - ry * 0.17, rx: rx * 0.7, ry: ry * 0.62, fill: 'url(#cupGrad)' }, g);
  if (rna) {
    mk('path', { d: 'M' + (cx - rx * .5) + ' ' + (cy - ry * .4) + 'L' + (cx + rx * .2) + ' ' + (cy + ry * .1) + 'M' + (cx - rx * .2) + ' ' + (cy + ry * .25) + 'L' + (cx + rx * .5) + ' ' + (cy - ry * .1) + 'M' + (cx + rx * .3) + ' ' + (cy - ry * .55) + 'L' + (cx + rx * .45) + ' ' + (cy + ry * .3) + 'M' + (cx - rx * .3) + ' ' + (cy - ry * .1) + 'L' + (cx - rx * .05) + ' ' + (cy - ry * .55), stroke: '#1aa6a0', 'stroke-width': Math.max(3, rx * 0.05), fill: 'none' }, g);
  }
  if (knobs) {
    [[-.9, .5], [-.65, .8], [-.3, .95], [.05, 1], [.4, .92], [.72, .7], [.93, .35], [-.97, -.3], [-.4, .62], [.3, .62], [.55, -.95], [.98, -.2]].forEach(p => {
      mk('circle', { cx: cx + p[0] * rx, cy: cy + p[1] * ry, r: rx * 0.11, fill: '#3657b4', stroke: '#22387e', 'stroke-width': 2 }, g);
    });
  }
}
exosome(1680, 230, 154, 158, false, false, 'exo-vesicle');
exosome(2384, 232, 145, 160, true, false, 'bt-exo-vesicle');
exosome(3167, 236, 150, 165, true, true, 'bt-exo-sishn3-vesicle');
exosome(3262, 988, 88, 100, true, true, 'injected-vesicle');
const blastCells = [[1610, 815], [1645, 890], [1695, 945], [1770, 970], [1815, 885], [1840, 825]];
blastCells.forEach(p => {
  const c = mk('g', {});
  
  
  mk('ellipse', { cx: p[0], cy: p[1], rx: 44, ry: 52, fill: '#f0b88a', stroke: '#d07b4a', 'stroke-width': 4 }, c);
  mk('ellipse', { cx: p[0], cy: p[1] + 4, rx: 24, ry: 30, fill: '#3a5aa8' }, c);
});
exosome(1739, 733, 64, 68, true, true, 'targeted-vesicle');
[1555, 1598, 1642, 1685, 1728].forEach(x => {
  const c = mk('g', {});
  
  
  mk('ellipse', { cx: x, cy: 1170, rx: 25, ry: 42, fill: '#eeb088', stroke: '#c87a4c', 'stroke-width': 3 }, c);
  mk('ellipse', { cx: x, cy: 1180, rx: 15, ry: 20, fill: '#33509c' }, c);
});
</script>
</body></html>
